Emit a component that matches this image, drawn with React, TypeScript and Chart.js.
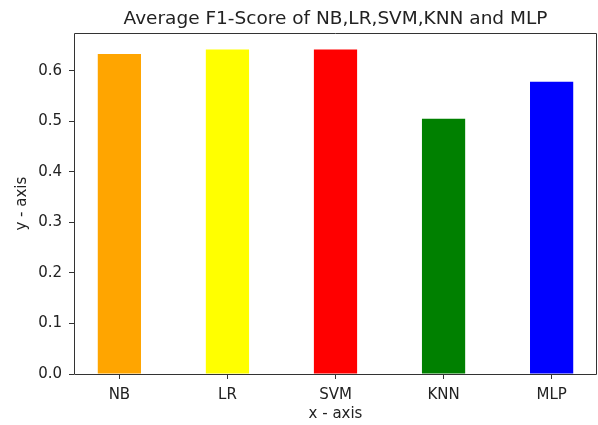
import React, { useEffect, useRef } from 'react';
import { Chart, registerables } from 'chart.js';

Chart.register(...registerables);

const categories = ['NB', 'LR', 'SVM', 'KNN', 'MLP'];
const f1Scores = [0.633, 0.642, 0.642, 0.505, 0.578];
const barColors = ['#ffa500', '#ffff00', '#ff0000', '#008000', '#0000ff'];
const yTickValues = [0, 0.1, 0.2, 0.3, 0.4, 0.5, 0.6];
const chartTitle = 'Average F1-Score of NB,LR,SVM,KNN and MLP';
const xAxisLabel = 'x - axis';
const yAxisLabel = 'y - axis';

const TEXT = '#222222';
const LINE = '#333333';

const framePlugin = {
  id: 'axesFrame',
  afterDatasetsDraw(chart: any) {
    const { ctx, chartArea } = chart;
    const l = Math.round(chartArea.left) + 0.5;
    const t = Math.round(chartArea.top) + 0.5;
    const r = Math.round(chartArea.right) - 0.5;
    const b = Math.round(chartArea.bottom) + 0.5;
    ctx.save();
    ctx.strokeStyle = LINE;
    ctx.lineWidth = 1;
    ctx.beginPath();
    ctx.moveTo(l, t);
    ctx.lineTo(r, t);
    ctx.lineTo(r, b);
    ctx.lineTo(l, b);
    ctx.closePath();
    ctx.stroke();
    ctx.restore();
  },
};

export default function App() {
  const canvasRef = useRef<HTMLCanvasElement | null>(null);

  useEffect(() => {
    if (!canvasRef.current) return;
    Chart.defaults.font.family = "'DejaVu Sans', sans-serif";
    Chart.defaults.color = TEXT;
    const yMax = Math.max(...f1Scores) * 1.05;
    const chart = new Chart(canvasRef.current, {
      type: 'bar',
      data: {
        datasets: [
          {
            data: f1Scores.map((v, i) => ({ x: i, y: v })),
            backgroundColor: barColors,
            borderWidth: 0,
            barPercentage: 0.4,
            categoryPercentage: 1,
          },
        ],
      },
      options: {
        responsive: false,
        animation: false,
        devicePixelRatio: 1,
        layout: { padding: { left: 0, right: 1, top: 0, bottom: 0 } },
        plugins: {
          legend: { display: false },
          tooltip: { enabled: false },
          title: {
            display: true,
            fullSize: false,
            text: chartTitle,
            color: TEXT,
            font: { size: 18.5, weight: 'normal' },
            padding: { top: 8, bottom: 3.1 },
          },
        },
        scales: {
          x: {
            type: 'linear',
            offset: false,
            min: -0.42,
            max: 4.42,
            afterBuildTicks: (s: any) => {
              s.ticks = categories.map((_, i) => ({ value: i }));
            },
            afterFit: (s: any) => {
              s.height = 51;
            },
            ticks: {
              autoSkip: false,
              maxRotation: 0,
              padding: 7,
              color: TEXT,
              font: { size: 15 },
              callback: (v: any) => categories[Math.round(Number(v))] ?? '',
            },
            grid: {
              display: true,
              offset: false,
              drawOnChartArea: false,
              drawTicks: true,
              tickLength: 5,
              color: LINE,
            },
            border: { display: false },
            title: {
              display: true,
              text: xAxisLabel,
              color: TEXT,
              font: { size: 15 },
              padding: { top: 0, bottom: 2 },
            },
          },
          y: {
            min: 0,
            max: yMax,
            afterBuildTicks: (s: any) => {
              s.ticks = yTickValues.map((v) => ({ value: v }));
            },
            afterFit: (s: any) => {
              s.width = 74;
            },
            ticks: {
              padding: 7,
              color: TEXT,
              font: { size: 15 },
              callback: (v: any) => Number(v).toFixed(1),
            },
            grid: {
              display: true,
              drawOnChartArea: false,
              drawTicks: true,
              tickLength: 5,
              color: LINE,
            },
            border: { display: false },
            title: {
              display: true,
              text: yAxisLabel,
              color: TEXT,
              font: { size: 15 },
              padding: { top: 13, bottom: 0 },
            },
          },
        },
      },
      plugins: [framePlugin],
    });
    return () => chart.destroy();
  }, []);

  return (
    <div style={{ position: 'fixed', left: 0, top: 0, width: 598, height: 425, background: '#fff' }}>
      <canvas ref={canvasRef} width={598} height={425} />
    </div>
  );
}
